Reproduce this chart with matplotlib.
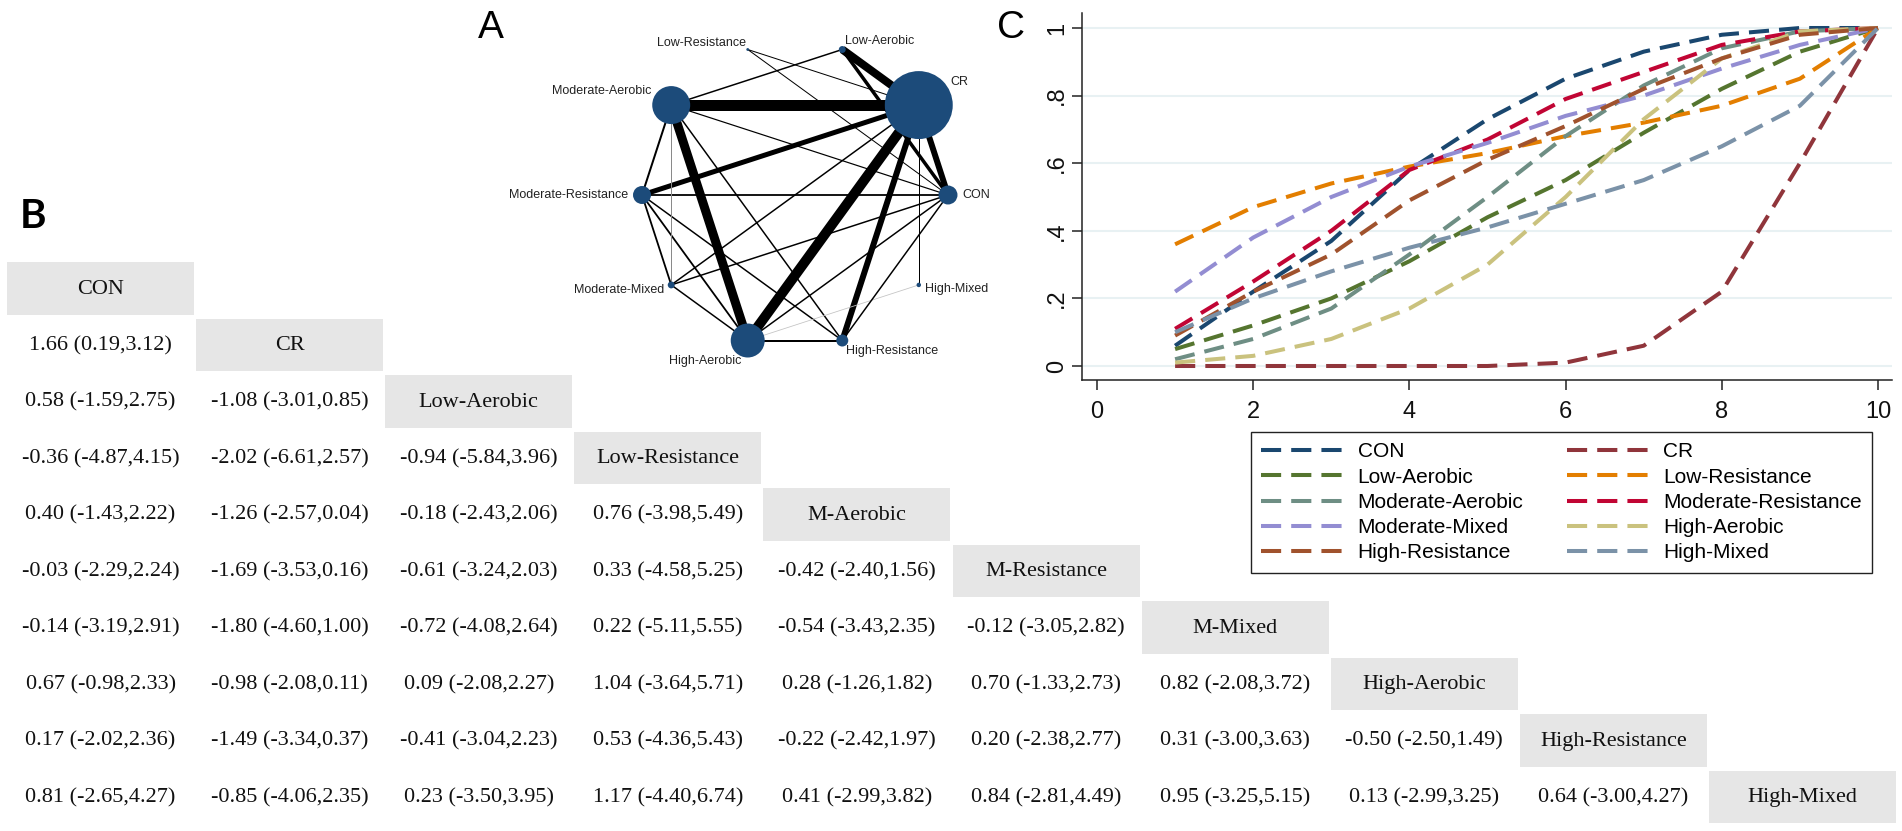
import matplotlib.pyplot as plt
import numpy as np
from matplotlib.patches import Rectangle

plt.rcParams['font.family'] = ['Liberation Sans', 'DejaVu Sans']

W, H = 1902, 831

# treatments (same order for network, table and rank curves)
names = ["CON", "CR", "Low-Aerobic", "Low-Resistance", "Moderate-Aerobic",
         "Moderate-Resistance", "Moderate-Mixed", "High-Aerobic",
         "High-Resistance", "High-Mixed"]
short_names = ["CON", "CR", "Low-Aerobic", "Low-Resistance", "M-Aerobic",
               "M-Resistance", "M-Mixed", "High-Aerobic", "High-Resistance",
               "High-Mixed"]

# --- A: network (node weight ~ sample size, edge weight ~ studies)
node_n = [90, 1156, 12, 2, 361, 81, 12, 289, 36, 5]
edge_a = [4, 7, 4, 2, 1, 8, 5, 2, 7, 4, 5, 5, 5, 5, 4, 4, 4, 4, 6, 6, 6, 7, 7, 8, 9, 3, 3]
edge_b = [1, 1, 7, 1, 0, 1, 1, 0, 8, 5, 0, 6, 7, 8, 2, 0, 8, 6, 1, 0, 7, 0, 9, 0, 1, 1, 0]
edge_w = [11, 10, 9, 8, 6, 6, 5, 3.5, 2, 2, 1.8, 1.8, 1.8, 1.5, 1.5, 1.2, 1.5, 1.0,
          1.5, 1.5, 1.5, 1.5, 0.8, 1.5, 1.0, 1.0, 1.0]
grey_edges = {(4, 6): '#8a8a8a', (7, 9): '#c4c4c4'}

# --- B: league table, row treatment vs column treatment
est = [
    [1.66],
    [0.58, -1.08],
    [-0.36, -2.02, -0.94],
    [0.40, -1.26, -0.18, 0.76],
    [-0.03, -1.69, -0.61, 0.33, -0.42],
    [-0.14, -1.80, -0.72, 0.22, -0.54, -0.12],
    [0.67, -0.98, 0.09, 1.04, 0.28, 0.70, 0.82],
    [0.17, -1.49, -0.41, 0.53, -0.22, 0.20, 0.31, -0.50],
    [0.81, -0.85, 0.23, 1.17, 0.41, 0.84, 0.95, 0.13, 0.64],
]
lo = [
    [0.19],
    [-1.59, -3.01],
    [-4.87, -6.61, -5.84],
    [-1.43, -2.57, -2.43, -3.98],
    [-2.29, -3.53, -3.24, -4.58, -2.40],
    [-3.19, -4.60, -4.08, -5.11, -3.43, -3.05],
    [-0.98, -2.08, -2.08, -3.64, -1.26, -1.33, -2.08],
    [-2.02, -3.34, -3.04, -4.36, -2.42, -2.38, -3.00, -2.50],
    [-2.65, -4.06, -3.50, -4.40, -2.99, -2.81, -3.25, -2.99, -3.00],
]
hi = [
    [3.12],
    [2.75, 0.85],
    [4.15, 2.57, 3.96],
    [2.22, 0.04, 2.06, 5.49],
    [2.24, 0.16, 2.03, 5.25, 1.56],
    [2.91, 1.00, 2.64, 5.55, 2.35, 2.82],
    [2.33, 0.11, 2.27, 5.71, 1.82, 2.73, 3.72],
    [2.36, 0.37, 2.23, 5.43, 1.97, 2.77, 3.63, 1.49],
    [4.27, 2.35, 3.95, 6.74, 3.82, 4.49, 5.15, 3.25, 4.27],
]

# --- C: cumulative ranking probabilities
ranks = [1, 2, 3, 4, 5, 6, 7, 8, 9, 10]
cum_con = [0.06, 0.22, 0.37, 0.58, 0.73, 0.85, 0.93, 0.98, 1.0, 1.0]
cum_cr = [0.0, 0.0, 0.0, 0.0, 0.0, 0.01, 0.06, 0.22, 0.60, 1.0]
cum_low_aer = [0.05, 0.12, 0.20, 0.31, 0.44, 0.55, 0.69, 0.82, 0.93, 1.0]
cum_low_res = [0.36, 0.47, 0.54, 0.59, 0.63, 0.68, 0.72, 0.77, 0.85, 1.0]
cum_mod_aer = [0.02, 0.08, 0.17, 0.33, 0.50, 0.68, 0.83, 0.94, 0.99, 1.0]
cum_mod_res = [0.11, 0.25, 0.40, 0.58, 0.67, 0.79, 0.87, 0.95, 0.99, 1.0]
cum_mod_mix = [0.22, 0.38, 0.50, 0.59, 0.66, 0.74, 0.80, 0.88, 0.95, 1.0]
cum_high_aer = [0.01, 0.03, 0.08, 0.17, 0.30, 0.50, 0.73, 0.91, 0.99, 1.0]
cum_high_res = [0.09, 0.22, 0.33, 0.49, 0.61, 0.71, 0.82, 0.91, 0.98, 1.0]
cum_high_mix = [0.10, 0.20, 0.28, 0.35, 0.41, 0.48, 0.55, 0.65, 0.77, 1.0]
curves = [cum_con, cum_cr, cum_low_aer, cum_low_res, cum_mod_aer, cum_mod_res,
          cum_mod_mix, cum_high_aer, cum_high_res, cum_high_mix]
colors = ['#1a476f', '#90353b', '#55752f', '#e37e00', '#6e8e84', '#c10534',
          '#938dd2', '#cac27e', '#a0522d', '#7b92a8']
yticks = [0, 0.2, 0.4, 0.6, 0.8, 1.0]
xticks = [0, 2, 4, 6, 8, 10]

fig = plt.figure(figsize=(W / 100, H / 100), dpi=100)
fig.patch.set_facecolor('white')


def fx(px):
    return px / W


def fy(py):
    return 1 - py / H


# ---------------- B: league table
axb = fig.add_axes([fx(7), fy(262 + 565), 1891 / W, 565 / H])
axb.set_xlim(0, 10)
axb.set_ylim(10, 0)
axb.axis('off')
serif = ['Liberation Serif', 'DejaVu Serif']
for k, nm in enumerate(short_names):
    axb.add_patch(Rectangle((k, k), 0.989, 0.938, facecolor='#e6e6e6', lw=0))
    axb.text(k + 0.495, k + 0.48, nm, ha='center', va='center',
             family=serif, size=16, color='#111111')
for r in range(1, 10):
    for c in range(r):
        s = f"{est[r-1][c]:.2f} ({lo[r-1][c]:.2f},{hi[r-1][c]:.2f})"
        axb.text(c + 0.495, r + 0.48, s, ha='center', va='center',
                 family=serif, size=16, color='#111111')

# ---------------- A: network plot
cx, cy, rad = 795, 195, 153
axa = fig.add_axes([fx(540), fy(410), 520 / W, 410 / H])
axa.set_xlim((540 - cx) / rad, (1060 - cx) / rad)
axa.set_ylim((cy - 410) / rad, (cy - 0) / rad)
axa.axis('off')
axa.patch.set_alpha(0)
ang = np.deg2rad(np.arange(10) * 36.0)
nx, ny = np.cos(ang), np.sin(ang)
for a, b, w in zip(edge_a, edge_b, edge_w):
    col = grey_edges.get((a, b), 'black')
    axa.plot([nx[a], nx[b]], [ny[a], ny[b]], color=col, lw=w * 0.72,
             solid_capstyle='butt', zorder=1)
sizes = np.array(node_n) * 2.07
axa.scatter(nx, ny, s=sizes, color='#1c4b7a', zorder=3, linewidths=0)
for k, nm in enumerate(names):
    off = (np.sqrt(node_n[k]) + 5) / rad
    c = nx[k]
    ha = 'left' if c > 0.1 else ('right' if c < -0.1 else 'center')
    axa.text(nx[k] + off * nx[k], ny[k] + off * ny[k], nm, ha=ha, va='center',
             size=9, color='#222222')

fig.text(fx(491), fy(38), 'A', ha='center', va='baseline', size=28)
fig.text(fx(33), fy(228), 'B', ha='center', va='baseline', size=29,
         weight='bold', family=['Lato', 'DejaVu Sans'])
fig.text(fx(1011), fy(38), 'C', ha='center', va='baseline', size=28)

# ---------------- C: cumulative rank curves
axc = fig.add_axes([fx(1082), fy(380), 810 / W, 367 / H])
for cv, col, nm in zip(curves, colors, names):
    axc.plot(ranks, cv, color=col, lw=2.9, dashes=(5.0, 2.5),
             dash_capstyle='butt', label=nm)
axc.set_xlim((1082 - 1097) / 78.1, (1892 - 1097) / 78.1)
axc.set_ylim((366 - 380) / 338, (366 - 13) / 338)
axc.set_xticks(xticks)
axc.set_yticks(yticks)
axc.set_yticklabels([('%g' % v).lstrip('0') or '0' for v in yticks],
                    rotation=90, va='center')
axc.yaxis.grid(True, color='#e8f1f3', lw=1.5)
axc.set_axisbelow(True)
for sp in ['top', 'right']:
    axc.spines[sp].set_visible(False)
for sp in ['left', 'bottom']:
    axc.spines[sp].set_linewidth(1.1)
    axc.spines[sp].set_color('#222222')
axc.tick_params(axis='both', length=7, width=1.1, color='#222222',
                labelsize=17, labelcolor='#111111')
axc.tick_params(axis='x', pad=8)
axc.tick_params(axis='y', pad=3)

handles, labels = axc.get_legend_handles_labels()
order = [0, 2, 4, 6, 8, 1, 3, 5, 7, 9]
leg = fig.legend([handles[i] for i in order], [labels[i] for i in order],
                 ncol=2, loc='upper left', bbox_to_anchor=(fx(1251), fy(432)),
                 bbox_transform=fig.transFigure, borderaxespad=0,
                 fontsize=15, handlelength=3.9, handletextpad=0.72,
                 columnspacing=2.1, labelspacing=0.3, borderpad=0.5,
                 fancybox=False, framealpha=1, edgecolor='#222222')
leg.get_frame().set_linewidth(1.0)

fig.savefig('out.png', dpi=100, facecolor='white')
